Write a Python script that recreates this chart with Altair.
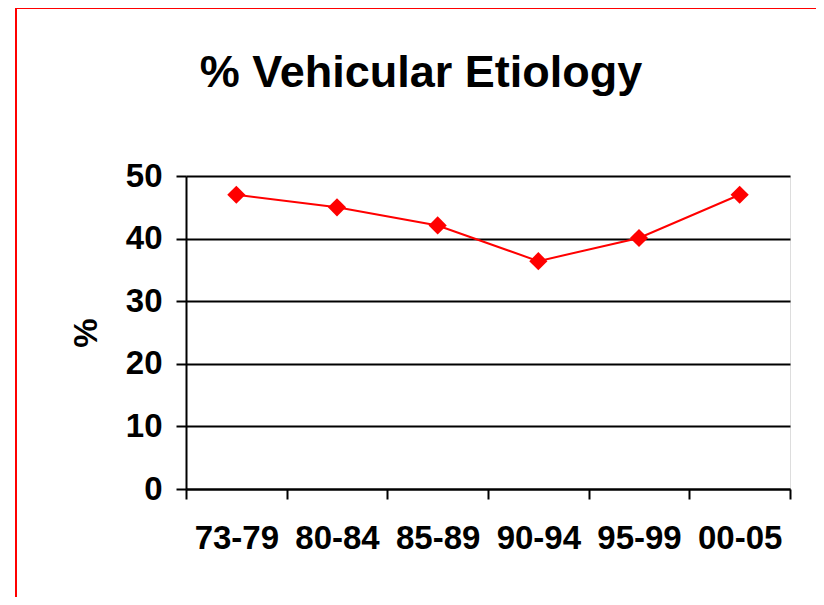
import altair as alt
import pandas as pd

periods = ["73-79", "80-84", "85-89", "90-94", "95-99", "00-05"]
percent = [47.0, 45.0, 42.1, 36.4, 40.1, 47.0]
y_ticks = [0, 10, 20, 30, 40, 50]
title_text = "% Vehicular Etiology"

df = pd.DataFrame({"period": periods, "pct": percent})

FONT = "Liberation Sans"
RED = "#FF0000"

x_enc = alt.X("period:N", sort=periods, title=None,
              scale=alt.Scale(paddingInner=0, paddingOuter=0),
              axis=alt.Axis(labelAngle=0, tickBand="extent", labelFontSize=33,
                            labelFontWeight="bold", labelFont=FONT, labelColor="black",
                            labelPadding=23, tickSize=10, tickWidth=2, tickColor="black",
                            domainColor="black", domainWidth=2, grid=False))
y_enc = alt.Y("pct:Q", title="%",
              scale=alt.Scale(domain=[0, 50], nice=False),
              axis=alt.Axis(values=y_ticks, labelFontSize=33, labelFontWeight="bold",
                            labelFont=FONT, labelColor="black", labelPadding=14,
                            tickSize=10, tickWidth=2, tickColor="black",
                            domainColor="black", domainWidth=2,
                            grid=True, gridColor="black", gridWidth=1.8, gridOpacity=1,
                            titleFontSize=33, titleFont=FONT, titleFontWeight="bold",
                            titleColor="black", titlePadding=22))

base = alt.Chart(df)
line = base.mark_line(color=RED, strokeWidth=2).encode(x=x_enc, y=y_enc)
pts = base.mark_point(shape="diamond", filled=True, color=RED, size=330, opacity=1).encode(
    x=x_enc, y=y_enc)

frame_df = pd.DataFrame({"t": [title_text]})
left_red = alt.Chart(frame_df).mark_rule(color=RED, strokeWidth=2).encode(
    x=alt.value(-170), y=alt.value(-168), y2=alt.value(440))
top_red = alt.Chart(frame_df).mark_rule(color=RED, strokeWidth=2).encode(
    x=alt.value(-171), x2=alt.value(660), y=alt.value(-168))
title = alt.Chart(frame_df).mark_text(
    fontSize=45, fontWeight="bold", font=FONT, color="black",
    align="center", baseline="alphabetic").encode(
    text="t:N", x=alt.value(235), y=alt.value(-89))

chart = alt.layer(line, pts, left_red, top_red, title).properties(
    width=604,
    height=313,
    autosize=alt.AutoSizeParams(type="none"),
    padding={"left": 178, "top": 168, "right": 26, "bottom": 108},
).configure_view(stroke="black", strokeWidth=2).configure(background="white")

chart.save("out.html", embed_options={"renderer": "svg", "actions": False})
